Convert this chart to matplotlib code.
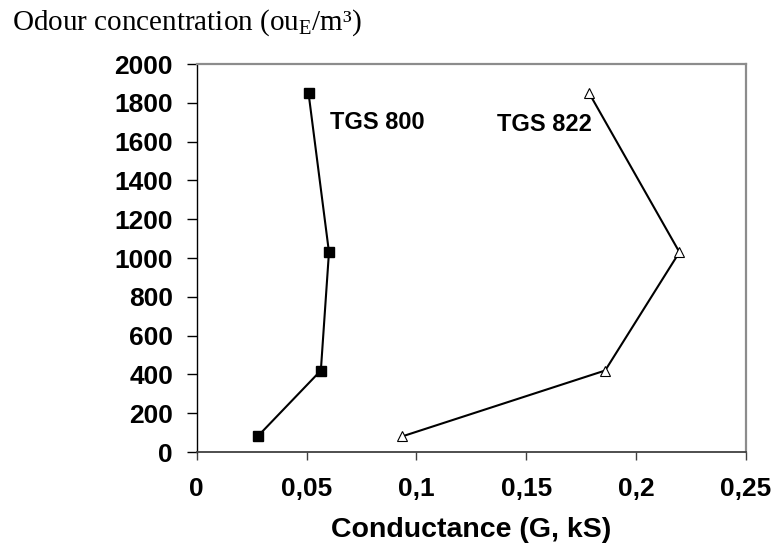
import matplotlib
matplotlib.use("Agg")
import matplotlib.pyplot as plt

plt.rcParams['mathtext.fontset'] = 'custom'
plt.rcParams['mathtext.rm'] = 'Liberation Serif'

odour = [80, 420, 1030, 1850]
tgs800 = [0.0277, 0.0565, 0.0602, 0.0509]
tgs822 = [0.0934, 0.1859, 0.2197, 0.1786]

xticks = [0, 0.05, 0.1, 0.15, 0.2, 0.25]
xticklabels = ["0", "0,05", "0,1", "0,15", "0,2", "0,25"]
yticks = list(range(0, 2001, 200))

fig = plt.figure(figsize=(7.72, 5.48), dpi=100)
ax = fig.add_axes([196.7/772, 1-452/548, (746-196.7)/772, (452-64)/548])

ax.plot(tgs800, odour, color='black', lw=1.5, marker='s', ms=7.2,
        mfc='black', mec='black', clip_on=False, zorder=3)
ax.plot(tgs822, odour, color='black', lw=1.5, marker='^', ms=6.5,
        mfc='white', mec='black', mew=0.8, clip_on=False, zorder=3)

ax.set_xlim(0, 0.25)
ax.set_ylim(0, 2000)
ax.set_xticks(xticks)
ax.set_xticklabels(xticklabels)
ax.set_yticks(yticks)

for lab in ax.get_xticklabels() + ax.get_yticklabels():
    lab.set_fontfamily('Liberation Sans')
    lab.set_fontweight('bold')
    lab.set_fontsize(19)

ax.tick_params(axis='x', direction='out', length=6, width=1, pad=12, colors='black')
ax.tick_params(axis='y', direction='out', length=7, width=1, pad=10, colors='black')
ax.tick_params(axis='x', color='#404040')

ax.spines['left'].set_color('black')
ax.spines['left'].set_linewidth(1.0)
ax.spines['bottom'].set_color('#404040')
ax.spines['bottom'].set_linewidth(1.3)
ax.spines['top'].set_color('#8c8c8c')
ax.spines['top'].set_linewidth(1.6)
ax.spines['right'].set_color('#8c8c8c')
ax.spines['right'].set_linewidth(1.6)

ax.text(0.0607, 1696, "TGS 800", family='Liberation Sans', weight='bold',
        size=17, va='center', ha='left')
ax.text(0.1366, 1686, "TGS 822", family='Liberation Sans', weight='bold',
        size=17, va='center', ha='left')

ax.set_xlabel("Conductance (G, kS)", family='Liberation Sans', weight='bold', size=20.5)
ax.xaxis.set_label_coords(0.5, (452-530)/388)
ax.xaxis.label.set_va('center')

fig.text(12/772, 1-30/548, r"Odour concentration (ou$_\mathrm{E}$/m³)",
         family='Liberation Serif', size=21, ha='left', va='baseline')

fig.savefig("out.png", dpi=100)
